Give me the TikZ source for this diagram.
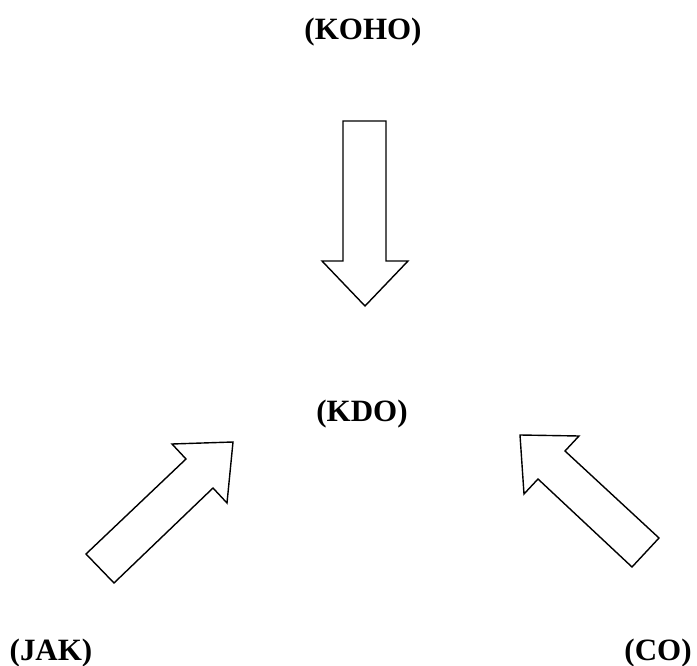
\documentclass[tikz,border=0pt]{standalone}
\usepackage{fontspec}
\setmainfont{Liberation Serif}
\begin{document}
\begin{tikzpicture}[x=1pt,y=-1pt,
  lbl/.style={font=\fontsize{31}{35}\selectfont\bfseries, inner sep=0pt},
  blockarrow/.style={draw=black, line width=1.4pt, line join=miter, fill=white}]
\useasboundingbox (0,0) rectangle (697,666);
\node[lbl] (koho) at (363,32) {(KOHO)};
\node[lbl] (kdo) at (362,414) {(KDO)};
\node[lbl] (jak) at (51,653) {(JAK)};
\node[lbl] (co) at (658,653) {(CO)};
% down arrow
\draw[blockarrow] (343,121) -- (386,121) -- (386,261) -- (408,261) -- (365,306) -- (322,261) -- (343,261) -- cycle;
% JAK arrow
\draw[blockarrow] (86,554) -- (186,459) -- (172,444) -- (233,442) -- (227,503) -- (213,488) -- (114,583) -- cycle;
% CO arrow
\draw[blockarrow] (659,538) -- (565,451) -- (579,436) -- (520,435) -- (524,494) -- (538,479) -- (632,567) -- cycle;
\end{tikzpicture}
\end{document}
